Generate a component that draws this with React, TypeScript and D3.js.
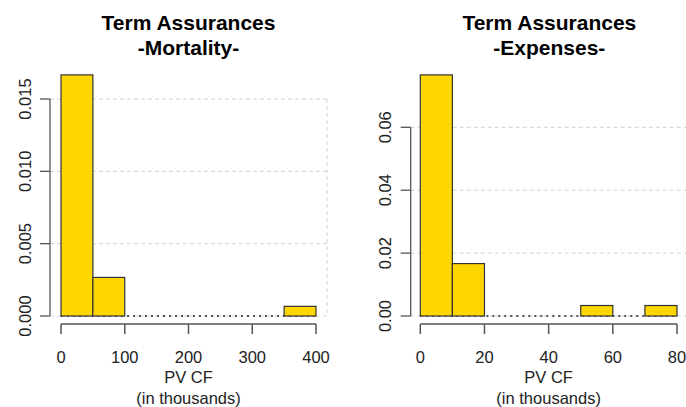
import React from "react";
import * as d3 from "d3";

// histogram bins (in thousands) and densities
const mortEdges = [0, 50, 100, 150, 200, 250, 300, 350, 400];
const mortDensity = [0.016667, 0.002667, 0, 0, 0, 0, 0, 0.000667];
const mortXTicks = [0, 100, 200, 300, 400];
const mortYTicks = [0, 0.005, 0.01, 0.015];
const mortYLabels = ["0.000", "0.005", "0.010", "0.015"];

const expEdges = [0, 10, 20, 30, 40, 50, 60, 70, 80];
const expDensity = [0.076667, 0.016667, 0, 0, 0, 0.003333, 0, 0.003333];
const expXTicks = [0, 20, 40, 60, 80];
const expYTicks = [0, 0.02, 0.04, 0.06];
const expYLabels = ["0.00", "0.02", "0.04", "0.06"];

const FONT = "Liberation Sans, Arial, sans-serif";

interface PanelProps {
  title: string[];
  edges: number[];
  density: number[];
  xTicks: number[];
  yTicks: number[];
  yLabels: string[];
  xRange: [number, number];
  yRange: [number, number];
  box: [number, number];
}

function Panel({ title, edges, density, xTicks, yTicks, yLabels, xRange, yRange, box }: PanelProps) {
  const x = d3.scaleLinear().domain([edges[0], edges[edges.length - 1]]).range(xRange);
  const yMax = yTicks[yTicks.length - 1];
  const y = d3.scaleLinear().domain([0, yMax]).range(yRange);
  const bins = density.map((d, i) => ({ x0: edges[i], x1: edges[i + 1], d }));
  const cx = (box[0] + box[1]) / 2;
  const axisY = y(0) + 8;
  const axisColor = "#555";
  const textColor = "#222";

  return (
    <g>
      <text x={cx} y={30} textAnchor="middle" fontWeight="bold" fontSize={21} fill="#000">{title[0]}</text>
      <text x={cx} y={55} textAnchor="middle" fontWeight="bold" fontSize={21} fill="#000">{title[1]}</text>

      {/* grid */}
      {yTicks.slice(1).map((t) => (
        <line key={t} x1={box[0]} x2={box[1]} y1={y(t)} y2={y(t)} stroke="#d3d3d3" strokeDasharray="4,3" />
      ))}
      <line x1={box[1]} x2={box[1]} y1={y(yMax)} y2={y(0)} stroke="#d3d3d3" strokeDasharray="4,3" />
      <line x1={box[0]} x2={box[1]} y1={y(0)} y2={y(0)} stroke="#d3d3d3" strokeDasharray="4,3" />

      {/* baseline */}
      <line x1={x(edges[0])} x2={x(edges[edges.length - 1])} y1={y(0)} y2={y(0)} stroke="#222" strokeWidth={1.3} strokeDasharray="2,4" />

      {/* bars */}
      {bins.filter((b) => b.d > 0).map((b) => (
        <rect key={b.x0} x={x(b.x0)} y={y(b.d)} width={x(b.x1) - x(b.x0)} height={y(0) - y(b.d)}
          fill="#FFD700" stroke="#333" strokeWidth={1.2} />
      ))}

      {/* y axis */}
      <line x1={box[0]} x2={box[0]} y1={y(0)} y2={y(yMax)} stroke={axisColor} strokeWidth={1.3} />
      {yTicks.map((t, i) => (
        <g key={t}>
          <line x1={box[0] - 10} x2={box[0]} y1={y(t)} y2={y(t)} stroke={axisColor} strokeWidth={1.3} />
          <text transform={`translate(${box[0] - 25},${y(t)}) rotate(-90)`} textAnchor="middle" dy="0.35em"
            fontSize={16.5} fill={textColor}>{yLabels[i]}</text>
        </g>
      ))}

      {/* x axis */}
      <line x1={x(xTicks[0])} x2={x(xTicks[xTicks.length - 1])} y1={axisY} y2={axisY} stroke={axisColor} strokeWidth={1.5} />
      {xTicks.map((t) => (
        <g key={t}>
          <line x1={x(t)} x2={x(t)} y1={axisY} y2={axisY + 10} stroke={axisColor} strokeWidth={1.5} />
          <text x={x(t)} y={axisY + 33} textAnchor="middle" dy="0.35em" fontSize={16.5} fill={textColor}>{t}</text>
        </g>
      ))}
      <text x={x((edges[0] + edges[edges.length - 1]) / 2)} y={377} textAnchor="middle" dy="0.35em" fontSize={16.5} fill={textColor}>PV CF</text>
      <text x={x((edges[0] + edges[edges.length - 1]) / 2)} y={398} textAnchor="middle" dy="0.35em" fontSize={16.5} fill={textColor}>(in thousands)</text>
    </g>
  );
}

export default function App() {
  return (
    <svg width={686} height={407} style={{ position: "absolute", left: 0, top: 0, background: "#fff" }} fontFamily={FONT}>
      <Panel title={["Term Assurances", "-Mortality-"]} edges={mortEdges} density={mortDensity}
        xTicks={mortXTicks} yTicks={mortYTicks} yLabels={mortYLabels}
        xRange={[61, 316]} yRange={[316, 99]} box={[50, 327]} />
      <Panel title={["Term Assurances", "-Expenses-"]} edges={expEdges} density={expDensity}
        xTicks={expXTicks} yTicks={expYTicks} yLabels={expYLabels}
        xRange={[420.3, 677]} yRange={[316, 127.3]} box={[410.7, 688]} />
    </svg>
  );
}
